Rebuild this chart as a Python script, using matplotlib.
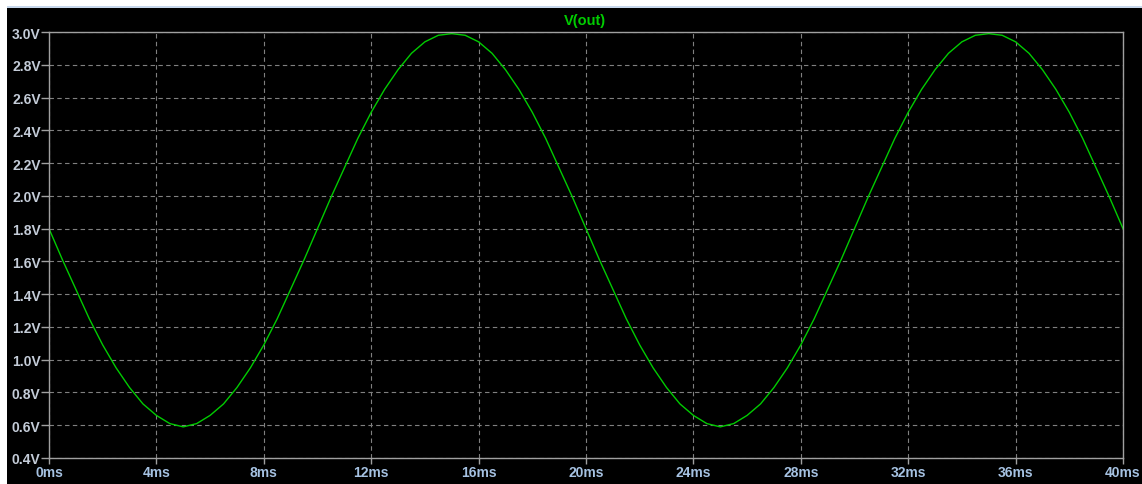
import matplotlib
matplotlib.use('Agg')
import matplotlib.pyplot as plt
from matplotlib.patches import Rectangle
import numpy as np

quarter_down = [1.80, 1.61, 1.43, 1.25, 1.09, 0.95, 0.83, 0.73, 0.66, 0.61, 0.59]
quarter_up_low = [0.61, 0.66, 0.73, 0.83, 0.95, 1.09, 1.25, 1.43, 1.61, 1.80]
quarter_up_high = [1.99, 2.17, 2.35, 2.51, 2.65, 2.77, 2.87, 2.94, 2.98, 2.99]
quarter_down_high = [2.98, 2.94, 2.87, 2.77, 2.65, 2.51, 2.35, 2.17, 1.99, 1.80]

period = quarter_down + quarter_up_low + quarter_up_high + quarter_down_high
v_out = period + period[1:] + [1.80]
v_out = v_out[:81]
v_out[-1] = 1.80
t_ms = [0.5 * i for i in range(81)]

x_ticks = [0, 4, 8, 12, 16, 20, 24, 28, 32, 36, 40]
x_labels = [str(x) + 'ms' for x in x_ticks]
y_ticks = [0.4, 0.6, 0.8, 1.0, 1.2, 1.4, 1.6, 1.8, 2.0, 2.2, 2.4, 2.6, 2.8, 3.0]
y_labels = ['%.1fV' % y for y in y_ticks]

W, H = 1142, 485
fig = plt.figure(figsize=(W / 100, H / 100), dpi=100)
fig.patch.set_facecolor('black')

# white strips at top and left of the window
fig.patches.append(Rectangle((0, 1 - 8 / H), 1, 8 / H, transform=fig.transFigure, facecolor='white', edgecolor='none'))
fig.patches.append(Rectangle((0, 1 - 9 / H), 1, 2 / H, transform=fig.transFigure, facecolor='#c8d8ec', edgecolor='none'))
fig.patches.append(Rectangle((0, 0), 7 / W, 1, transform=fig.transFigure, facecolor='white', edgecolor='none'))

left, right, top, bottom = 49, 1123, 33, 459
ax = fig.add_axes([left / W, 1 - bottom / H, (right - left) / W, (bottom - top) / H])
ax.set_facecolor('black')

ax.plot(t_ms, v_out, color='#00cc00', linewidth=1.0)

ax.set_xlim(0, 40)
ax.set_ylim(0.4, 3.0)
ax.set_xticks(x_ticks)
ax.set_xticklabels(x_labels)
ax.set_yticks(y_ticks)
ax.set_yticklabels(y_labels)

for lab in ax.get_xticklabels():
    lab.set_color('#a6c2e2')
for lab in ax.get_yticklabels():
    lab.set_color('#c4ccd8')
for lab in ax.get_xticklabels() + ax.get_yticklabels():
    lab.set_fontfamily('Liberation Sans')
    lab.set_fontweight('bold')
    lab.set_fontsize(10)

ax.tick_params(axis='y', direction='out', length=5.5, width=1, color='#a0a0a0', pad=0.5)
ax.tick_params(axis='x', direction='out', length=4.5, width=1, color='#a0a0a0', pad=0.5)
ax.grid(True, color='#808080', linestyle=(0, (4, 3)), linewidth=0.8)

for s in ax.spines.values():
    s.set_color('#a0a0a0')
    s.set_linewidth(1.0)

fig.text(585 / W, 1 - 21 / H, 'V(out)', color='#00cc00', fontsize=10.5, fontweight='bold',
         fontfamily='Liberation Sans', ha='center', va='center')

fig.savefig('out.png', dpi=100, facecolor=fig.get_facecolor())
